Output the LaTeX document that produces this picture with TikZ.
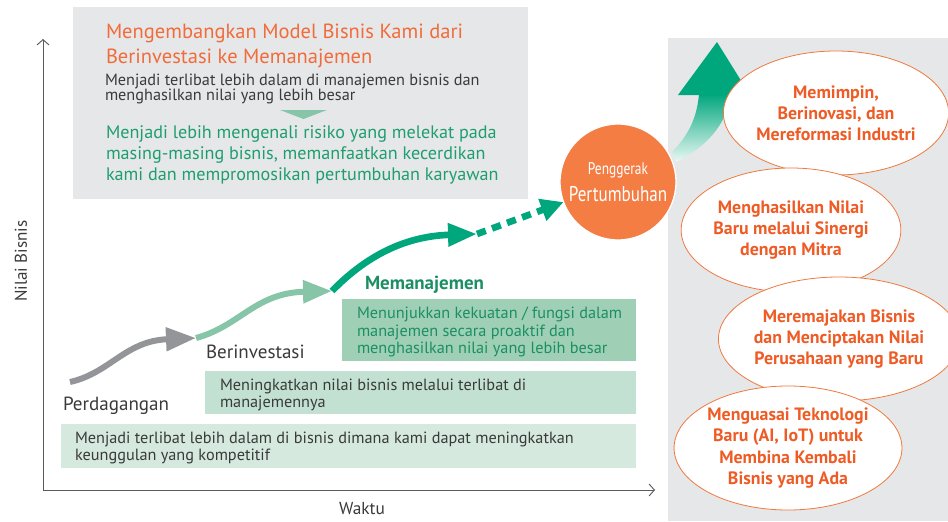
\documentclass[tikz,border=0pt]{standalone}
\usepackage{fontspec}
\setmainfont{PT Sans}
\newfontfamily\narrowfont[FakeStretch=0.8]{PT Sans}
\usetikzlibrary{arrows.meta,shapes.geometric}

\definecolor{panelgray}{HTML}{E6E7E8}
\definecolor{axisgray}{HTML}{5A5A5A}
\definecolor{textgray}{HTML}{3A3A3A}
\definecolor{tradegray}{HTML}{939598}
\definecolor{investgreen}{HTML}{86C5A8}
\definecolor{managegreen}{HTML}{00A77D}
\definecolor{lowbox}{HTML}{D6E9DF}
\definecolor{midbox}{HTML}{C3E1D2}
\definecolor{highbox}{HTML}{9FD0B6}
\definecolor{titleorange}{HTML}{F26B3A}
\definecolor{driverorange}{HTML}{F47D44}
\definecolor{goalorange}{HTML}{EF5B25}
\definecolor{goalline}{HTML}{F0793F}
\definecolor{riskgreen}{HTML}{1E9E6F}
\definecolor{highgreen}{HTML}{1B8F62}

\begin{document}
\begin{tikzpicture}[x=0.75pt,y=-0.75pt,line cap=butt,
		every node/.style={inner sep=0pt,outer sep=0pt},
		body text/.style={anchor=north west,align=left,text=textgray,font=\fontsize{12.2}{12.6}\selectfont},
		stage label/.style={anchor=north west,text=textgray,font=\fontsize{14.3}{16}\selectfont},
		axis line/.style={draw=axisgray,line width=0.7pt,-{Straight Barb[length=4pt,width=9pt]}},
		flow/.style={line width=4.5pt},
		goal state/.style={ellipse,draw=goalline,fill=white,line width=0.6pt,
			minimum width=156pt,minimum height=93pt,align=center,text=goalorange,
			font=\bfseries\fontsize{13.4}{15.8}\selectfont}]

	\useasboundingbox (0,0) rectangle (948,521);

	% panels
	\fill[panelgray] (668,38) rectangle (948,521);
	\fill[panelgray] (73,7) rectangle (528,199);
	\fill[lowbox] (61,424) rectangle (636,468);
	\fill[midbox] (205,371) rectangle (636,414);
	\fill[highbox] (342,299) rectangle (636,361);

	% axes
	\coordinate (origin) at (43,490);
	\coordinate (value-end) at (43,39);
	\coordinate (time-end) at (655,490);
	\draw[axis line] (origin) -- (value-end);
	\draw[axis line] (origin) -- (time-end);
	\node[rotate=90,text=textgray,font=\fontsize{12.8}{14}\selectfont] (lbl-value) at (21,261) {Nilai Bisnis};
	\node[text=textgray,font=\fontsize{13}{14}\selectfont] (lbl-time) at (362,509) {Waktu};

	% top box texts
	\node[anchor=north west,align=left,text=titleorange,font=\fontsize{15.4}{18.5}\selectfont]
		(txt-title) at (106,24) {Mengembangkan Model Bisnis Kami dari\\Berinvestasi ke Memanajemen};
	\node[body text,font=\fontsize{12.2}{11.6}\selectfont] (txt-deeper) at (105,74)
		{Menjadi terlibat lebih dalam di manajemen bisnis dan\\menghasilkan nilai yang lebih besar};
	\fill[investgreen] (280,110) -- (327,110) -- (303.5,119) -- cycle;
	\node[anchor=north west,align=left,text=riskgreen,font=\fontsize{13.6}{15.8}\selectfont]
		(txt-risk) at (106,126) {Menjadi lebih mengenali risiko yang melekat pada\\masing-masing bisnis, memanfaatkan kecerdikan\\kami dan mempromosikan pertumbuhan karyawan};

	% box texts
	\node[body text] (txt-low) at (75,432)
		{Menjadi terlibat lebih dalam di bisnis dimana kami dapat meningkatkan\\keunggulan yang kompetitif};
	\node[body text] (txt-mid) at (220,379)
		{Meningkatkan nilai bisnis melalui terlibat di\\manajemennya};
	\node[body text,text=highgreen,font=\fontsize{12.2}{13.1}\selectfont] (txt-high) at (357,307)
		{Menunjukkan kekuatan / fungsi dalam\\manajemen secara proaktif dan\\menghasilkan nilai yang lebih besar};

	% stage labels
	\node[stage label] (stage-trade) at (63,397) {Perdagangan};
	\node[stage label] (stage-invest) at (206,345) {Berinvestasi};
	\node[stage label,text=highgreen,font=\bfseries\fontsize{14.2}{16}\selectfont] (stage-manage) at (365,276) {Memanajemen};

	% rising arrow
	\shade[top color=managegreen,bottom color=managegreen!8]
		(672,152) .. controls (688,136) and (697,118) .. (699,94)
		-- (731,94) .. controls (727,125) and (705,148) .. (676,162) -- cycle;
	\fill[managegreen] (678,95) -- (717,42) -- (750,95) -- cycle;

	% growth path
	\node[circle,fill=driverorange,draw=white,line width=1pt,minimum size=87pt,align=center,
		text=white] (driver) at (618,182)
		{\narrowfont\fontsize{12.6}{13}\selectfont Penggerak\\[5pt]\narrowfont\fontsize{16}{18}\selectfont Pertumbuhan};
	\coordinate (trade-start) at (70,382);
	\coordinate (invest-start) at (196,338);
	\coordinate (manage-start) at (332,291);
	\coordinate (manage-end) at (477,234);

	\draw[flow,tradegray,-{Triangle[length=22.5pt,width=17pt]}]
		(trade-start) .. controls (110,373) and (125,341) .. (invest-start);
	\draw[flow,investgreen,-{Triangle[length=21.75pt,width=16.5pt]}]
		(invest-start) .. controls (240,326) and (255,293) .. (manage-start);
	\draw[flow,line width=5pt,managegreen,-{Triangle[length=21.75pt,width=16.5pt]}]
		(manage-start) .. controls (370,252) and (410,236) .. (manage-end);
	\draw[flow,line width=5pt,managegreen,dash pattern=on 7pt off 5pt,-{Triangle[length=17pt,width=16.5pt]}]
		(manage-end) -- (driver);

	% goals
	\node[goal state] (goal-lead) at (836,113) {Memimpin,\\Berinovasi, dan\\Mereformasi Industri};
	\node[goal state] (goal-synergy) at (791,230) {Menghasilkan Nilai\\Baru melalui Sinergi\\dengan Mitra};
	\node[goal state] (goal-renew) at (839,339) {Meremajakan Bisnis\\dan Menciptakan Nilai\\Perusahaan yang Baru};
	\node[goal state] (goal-tech) at (788,448) {Menguasai Teknologi\\Baru (AI, IoT) untuk\\Membina Kembali\\Bisnis yang Ada};
\end{tikzpicture}
\end{document}
